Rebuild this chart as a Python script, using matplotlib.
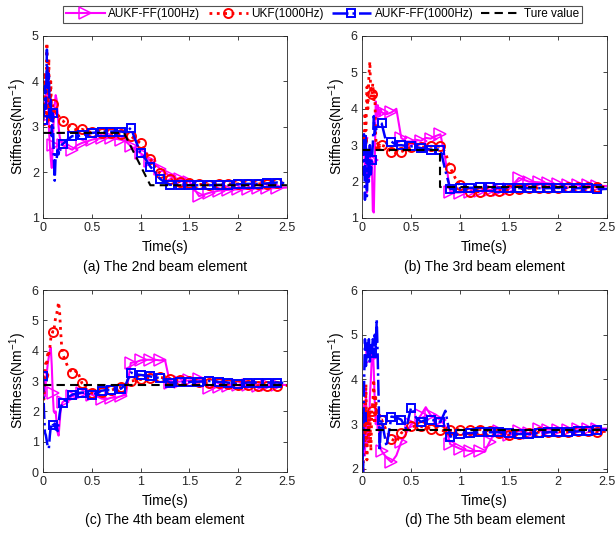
import matplotlib.pyplot as plt

plt.rcParams['font.family'] = ['Liberation Sans', 'DejaVu Sans']
plt.rcParams['mathtext.default'] = 'regular'
plt.rcParams['font.size'] = 10

# common time grid (s): fine at the start, coarser later
t = [0.00, 0.01, 0.02, 0.03, 0.04, 0.05, 0.06, 0.07, 0.08, 0.09, 0.10,
     0.11, 0.12, 0.13, 0.14, 0.15, 0.16, 0.17, 0.18, 0.19, 0.20,
     0.25, 0.30, 0.35, 0.40, 0.45, 0.50, 0.55, 0.60, 0.65, 0.70, 0.75,
     0.80, 0.85, 0.90, 0.95, 1.00, 1.05, 1.10, 1.15, 1.20, 1.25, 1.30,
     1.35, 1.40, 1.45, 1.50,
     1.6, 1.7, 1.8, 1.9, 2.0, 2.1, 2.2, 2.3, 2.4, 2.5]

# (a) 2nd beam element
a_aukf100 = [3.2, 3.3, 3.5, 3.7, 3.9, 3.6, 3.0, 2.6, 2.3, 2.1, 2.6,
             3.2, 3.5, 3.7, 3.6, 3.3, 3.0, 2.8, 2.7, 2.65, 2.6,
             2.55, 2.5, 2.6, 2.65, 2.68, 2.72, 2.74, 2.75, 2.76, 2.75, 2.74,
             2.72, 2.68, 2.58, 2.5, 2.42, 2.35, 2.25, 2.18, 2.08, 2.0, 1.92,
             1.88, 1.85, 1.82, 1.8,
             1.48, 1.55, 1.6, 1.62, 1.63, 1.64, 1.65, 1.65, 1.66, 1.67]
a_ukf = [3.15, 3.6, 4.2, 3.3, 4.85, 3.2, 4.5, 3.0, 4.0, 3.1, 3.5,
         3.2, 3.35, 3.25, 3.3, 3.2, 3.25, 3.2, 3.18, 3.15, 3.14,
         3.05, 2.97, 2.93, 2.95, 2.9, 2.88, 2.87, 2.87, 2.86, 2.86, 2.85,
         2.85, 2.82, 2.8, 2.72, 2.64, 2.45, 2.3, 2.12, 1.98, 1.9, 1.85,
         1.82, 1.8, 1.78, 1.77,
         1.74, 1.73, 1.74, 1.75, 1.75, 1.75, 1.75, 1.75, 1.76, 1.76]
a_aukf1000 = [3.15, 3.3, 3.9, 3.4, 4.7, 3.8, 4.2, 3.2, 3.6, 2.8, 3.3,
              2.4, 1.82, 2.4, 2.3, 2.5, 2.4, 2.55, 2.5, 2.6, 2.62,
              2.72, 2.8, 2.8, 2.82, 2.84, 2.87, 2.88, 2.9, 2.9, 2.9, 2.9,
              2.9, 2.88, 2.98, 2.7, 2.42, 2.3, 2.13, 2.0, 1.86, 1.78, 1.73,
              1.73, 1.73, 1.73, 1.72,
              1.72, 1.72, 1.73, 1.73, 1.74, 1.75, 1.75, 1.76, 1.78, 1.76]
a_true_t = [0, 0.83, 1.1, 2.5]
a_true = [2.87, 2.87, 1.72, 1.72]

# (b) 3rd beam element
b_aukf100 = [3.2, 2.8, 3.3, 2.2, 3.0, 1.7, 2.8, 2.0, 3.0, 2.2, 2.6,
             1.2, 1.15, 2.5, 4.2, 3.8, 4.1, 3.9, 3.8, 4.0, 3.9,
             3.85, 3.9, 4.0, 3.2, 3.1, 3.1, 3.15, 3.12, 3.2, 3.18, 3.25,
             3.3, 2.6, 1.72, 1.7, 1.7, 1.72, 1.72, 1.74, 1.75, 1.76, 1.77,
             1.78, 1.78, 1.8, 1.8,
             2.1, 2.0, 1.98, 1.95, 1.93, 1.92, 1.9, 1.9, 1.88, 1.88]
b_ukf = [3.15, 3.3, 2.9, 3.9, 3.4, 4.6, 4.0, 4.9, 5.3, 4.3, 4.4,
         4.7, 4.2, 4.5, 3.2, 2.9, 3.05, 2.9, 3.0, 2.95, 3.0,
         2.95, 2.8, 2.78, 2.82, 2.88, 2.95, 2.95, 2.94, 2.96, 2.97, 2.97,
         2.97, 2.8, 2.38, 2.1, 1.9, 1.78, 1.72, 1.72, 1.72, 1.73, 1.73,
         1.74, 1.75, 1.76, 1.77,
         1.8, 1.82, 1.82, 1.83, 1.83, 1.84, 1.84, 1.85, 1.86, 1.85]
b_aukf1000 = [3.15, 2.2, 3.3, 1.5, 3.2, 1.6, 2.9, 2.0, 3.0, 2.2, 2.6,
              3.0, 3.8, 3.3, 3.5, 3.4, 3.5, 3.55, 3.6, 3.62, 3.6,
              3.05, 3.1, 3.0, 3.0, 2.98, 2.97, 2.95, 2.92, 2.9, 2.88, 2.88,
              2.88, 2.3, 1.8, 1.8, 1.82, 1.82, 1.83, 1.83, 1.84, 1.85, 1.84,
              1.83, 1.83, 1.83, 1.82,
              1.82, 1.82, 1.82, 1.82, 1.83, 1.83, 1.82, 1.82, 1.79, 1.8]
b_true_t = [0, 0.8, 0.8, 2.5]
b_true = [2.87, 2.87, 1.84, 1.84]

# (c) 4th beam element
c_aukf100 = [3.2, 2.8, 2.5, 3.0, 3.3, 3.6, 3.8, 4.0, 4.1, 3.5, 2.6,
             2.0, 1.95, 2.0, 1.6, 1.3, 1.2, 1.6, 2.0, 2.2, 2.3,
             2.42, 2.5, 2.55, 2.6, 2.58, 2.55, 2.5, 2.42, 2.4, 2.45, 2.45,
             2.5, 2.55, 3.6, 3.62, 3.68, 3.7, 3.7, 3.7, 3.68, 3.7, 2.95,
             2.97, 2.98, 3.0, 3.02,
             3.05, 2.78, 2.8, 2.85, 2.86, 2.86, 2.85, 2.86, 2.87, 2.87]
c_ukf = [3.2, 2.4, 3.3, 3.6, 3.5, 4.0, 3.9, 4.1, 4.4, 4.5, 4.63,
         4.6, 4.9, 5.1, 5.2, 5.4, 5.6, 5.3, 4.7, 4.2, 3.9,
         3.5, 3.25, 3.35, 2.92, 2.7, 2.6, 2.62, 2.65, 2.68, 2.7, 2.75,
         2.8, 2.88, 3.0, 3.02, 3.05, 3.08, 3.1, 3.12, 3.12, 3.1, 3.08,
         3.05, 3.03, 3.0, 2.99,
         2.96, 2.94, 2.92, 2.9, 2.88, 2.86, 2.85, 2.85, 2.85, 2.85]
c_aukf1000 = [3.15, 2.0, 1.3, 1.2, 1.0, 0.8, 0.78, 1.2, 1.5, 1.45, 1.55,
              1.45, 1.6, 1.4, 1.5, 1.35, 1.6, 1.9, 2.1, 2.2, 2.26,
              2.45, 2.55, 2.6, 2.62, 2.6, 2.55, 2.6, 2.68, 2.7, 2.7, 2.73,
              2.75, 2.9, 3.28, 3.22, 3.2, 3.18, 3.15, 3.12, 3.1, 3.05, 2.95,
              2.95, 2.96, 2.97, 2.97,
              2.98, 3.0, 2.97, 2.95, 2.9, 2.95, 2.95, 2.95, 2.95, 2.93]
c_true_t = [0, 2.5]
c_true = [2.87, 2.87]

# (d) 5th beam element
d_aukf100 = [3.2, 2.4, 3.5, 2.3, 3.8, 2.5, 3.2, 2.6, 3.6, 4.0, 4.5,
             4.7, 4.2, 3.5, 3.0, 3.2, 2.9, 3.0, 2.6, 2.45, 2.4,
             2.25, 2.15, 2.3, 2.6, 2.8, 3.0, 3.05, 3.2, 3.38, 3.2, 3.15,
             3.1, 2.95, 2.55, 2.5, 2.45, 2.42, 2.4, 2.4, 2.4, 2.38, 2.6,
             2.8, 2.85, 2.8, 2.75,
             2.85, 2.8, 2.9, 2.88, 2.88, 2.88, 2.9, 2.9, 2.9, 2.9]
d_ukf = [3.15, 1.9, 3.5, 2.5, 3.9, 2.2, 3.3, 2.6, 3.3, 2.4, 3.3,
         3.5, 4.0, 3.0, 3.6, 3.2, 3.3, 3.1, 3.2, 3.1, 3.1,
         2.85, 2.67, 2.6, 2.8, 2.9, 2.95, 2.95, 2.95, 2.92, 2.9, 2.88,
         2.86, 2.85, 2.86, 2.87, 2.88, 2.88, 2.88, 2.88, 2.88, 2.86, 2.85,
         2.82, 2.8, 2.78, 2.75,
         2.77, 2.8, 2.82, 2.83, 2.83, 2.83, 2.84, 2.84, 2.83, 2.84]
d_aukf1000 = [3.15, 1.9, 3.8, 4.9, 4.3, 4.8, 4.5, 4.9, 4.4, 4.8, 4.6,
              4.9, 4.5, 5.0, 4.7, 5.35, 4.5, 3.5, 2.4, 2.9, 3.1,
              2.5, 3.17, 3.15, 3.1, 2.9, 3.37, 3.15, 3.05, 3.1, 3.1, 3.08,
              3.05, 3.3, 2.72, 2.75, 2.78, 2.79, 2.8, 2.81, 2.82, 2.82, 2.82,
              2.82, 2.82, 2.81, 2.8,
              2.78, 2.78, 2.8, 2.82, 2.83, 2.83, 2.84, 2.85, 2.88, 2.87]
d_true_t = [0, 2.5]
d_true = [2.87, 2.87]

panels = [
    (a_aukf100, a_ukf, a_aukf1000, a_true_t, a_true, (1, 5), [1, 2, 3, 4, 5], '(a) The 2nd beam element'),
    (b_aukf100, b_ukf, b_aukf1000, b_true_t, b_true, (1, 6), [1, 2, 3, 4, 5, 6], '(b) The 3rd beam element'),
    (c_aukf100, c_ukf, c_aukf1000, c_true_t, c_true, (0, 6), [0, 1, 2, 3, 4, 5, 6], '(c) The 4th beam element'),
    (d_aukf100, d_ukf, d_aukf1000, d_true_t, d_true, (1.93, 6), [2, 3, 4, 5, 6], '(d) The 5th beam element'),
]

# axes boxes in figure fractions (left, bottom, width, height)
boxes = [(0.0698, 0.591, 0.396, 0.3415), (0.5877, 0.591, 0.398, 0.3415),
         (0.0698, 0.1144, 0.396, 0.3415), (0.5877, 0.1144, 0.398, 0.3415)]
caption_y = [0.5, 0.5, 0.024, 0.024]

# markers every 0.1 s
marks = [i for i, v in enumerate(t) if abs(v * 10 - round(v * 10)) < 1e-6 and v < 2.45]

fig = plt.figure(figsize=(6.16, 5.33), dpi=100)
handles = None
for (m100, ukf, m1000, tt, tv, ylim, yt, cap), box, cy in zip(panels, boxes, caption_y):
    ax = fig.add_axes(box)
    h1, = ax.plot(t, m100, '-', color='#ff00ff', lw=1.5, marker='>', ms=8.5, mfc='none',
                  mew=1.1, markevery=marks, label='AUKF-FF(100Hz)')
    h2, = ax.plot(t, ukf, ':', color='#ff0000', lw=2.0, marker='o', ms=6.5, mfc='none',
                  mew=1.4, markevery=marks, label='UKF(1000Hz)')
    h3, = ax.plot(t, m1000, '-.', color='#0000ff', lw=1.8, marker='s', ms=5.5, mfc='none',
                  mew=1.4, markevery=marks, label='AUKF-FF(1000Hz)')
    h4, = ax.plot(tt, tv, '--', color='black', lw=1.5, dashes=(4, 2.5), label='Ture value')
    handles = [h1, h2, h3, h4]
    ax.set_xlim(0, 2.5)
    ax.set_ylim(*ylim)
    ax.set_xticks([0, 0.5, 1, 1.5, 2, 2.5])
    ax.set_xticklabels(['0', '0.5', '1', '1.5', '2', '2.5'])
    ax.set_yticks(yt)
    ax.tick_params(direction='in', top=True, right=True, length=3, width=0.6,
                   labelsize=9, colors='#262626', pad=3)
    for s in ax.spines.values():
        s.set_linewidth(0.6)
        s.set_color('#262626')
    ax.set_xlabel('Time(s)', fontsize=10, labelpad=4)
    ax.set_ylabel('Stiffness(Nm$^{-1}$)', fontsize=10, labelpad=2)
    fig.text(box[0] + box[2] / 2, cy, cap, ha='center', va='center', fontsize=10)

leg = fig.legend(handles=handles, loc='center', bbox_to_anchor=(0.5235, 0.9728), ncol=4,
                 fontsize=8.5, frameon=True, fancybox=False, edgecolor='#262626',
                 handlelength=3.3, columnspacing=0.7, handletextpad=0.3, borderpad=0.25)
leg.get_frame().set_linewidth(0.8)

fig.savefig('out.png', dpi=100)
